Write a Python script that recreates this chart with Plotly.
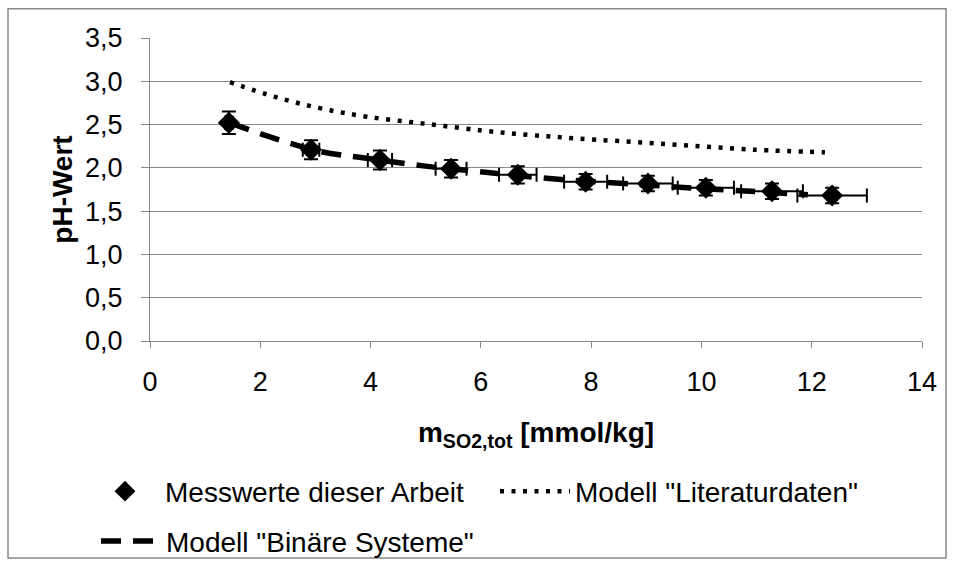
import plotly.graph_objects as go

# Measured values (Messwerte dieser Arbeit)
meas_x = [1.43, 2.92, 4.17, 5.46, 6.67, 7.90, 9.03, 10.08, 11.28, 12.37]
meas_y = [2.52, 2.21, 2.09, 1.99, 1.92, 1.84, 1.82, 1.77, 1.73, 1.68]
meas_xerr = [0.07, 0.15, 0.22, 0.28, 0.34, 0.39, 0.45, 0.51, 0.56, 0.63]
meas_yerr = [0.13, 0.11, 0.11, 0.10, 0.10, 0.09, 0.09, 0.09, 0.09, 0.09]

# Modell "Literaturdaten"
lit_x = [1.45, 2.27, 3.08, 3.94, 4.99, 6.04, 6.89, 7.74, 9.25, 10.94, 12.24]
lit_y = [2.99, 2.82, 2.69, 2.59, 2.51, 2.43, 2.38, 2.34, 2.28, 2.21, 2.18]

# Modell "Binäre Systeme"
bin_x = [1.45, 2.12, 3.08, 3.94, 4.99, 6.08, 7.35, 8.85, 9.74, 10.90, 11.93]
bin_y = [2.52, 2.37, 2.19, 2.11, 2.02, 1.95, 1.87, 1.81, 1.77, 1.73, 1.69]

FONT = "Liberation Sans, Arial, sans-serif"
GRID = "#888888"

fig = go.Figure()
fig.add_trace(go.Scatter(
    x=meas_x, y=meas_y, mode="markers", name="Messwerte dieser Arbeit",
    marker=dict(symbol="diamond", size=17, color="black"),
    error_x=dict(type="data", array=meas_xerr, color="black", thickness=2, width=7),
    error_y=dict(type="data", array=meas_yerr, color="black", thickness=2, width=7),
    legend="legend",
))
fig.add_trace(go.Scatter(
    x=lit_x, y=lit_y, mode="lines", name='Modell "Literaturdaten"',
    line=dict(color="black", width=4.5, dash="4px,7.5px", shape="spline"),
    legend="legend",
))
fig.add_trace(go.Scatter(
    x=bin_x, y=bin_y, mode="lines", name='Modell "Binäre Systeme"',
    line=dict(color="black", width=5.5, dash="20px,12px", shape="spline"),
    legend="legend2",
))

W, H = 956, 579
L, R, T, B = 150, 34, 38, 231
pw, ph = W - L - R, H - T - B

def px(xp):
    return (xp - L) / pw

def py(yp):
    return (H - B - yp) / ph

TICK = 27
TITLE = 28
LEG = 28

fig.update_layout(
    width=W, height=H,
    margin=dict(l=L, r=R, t=T, b=B),
    paper_bgcolor="white", plot_bgcolor="white",
    font=dict(family=FONT, color="black", size=TICK),
    separators=", ",
    showlegend=True,
    legend=dict(orientation="h", x=px(85), xanchor="left", y=py(502), yanchor="middle",
                font=dict(size=LEG), itemwidth=70, bgcolor="rgba(0,0,0,0)",
                entrywidth=325, entrywidthmode="pixels"),
    legend2=dict(orientation="h", x=px(96), xanchor="left", y=py(553), yanchor="middle",
                 font=dict(size=LEG), itemwidth=60, bgcolor="rgba(0,0,0,0)"),
    xaxis=dict(range=[0, 14], dtick=2, tick0=0, showgrid=False, zeroline=False,
               showline=True, linecolor=GRID, linewidth=1.3,
               ticks="outside", ticklen=6, tickcolor=GRID, tickwidth=1.3,
               tickfont=dict(size=TICK), ticklabelstandoff=10,
               title=dict(text="m<sub>SO2,tot</sub> [mmol/kg]",
                          font=dict(size=TITLE, family="Liberation Sans, Arial", weight="bold"),
                          standoff=26)),
    yaxis=dict(range=[0, 3.5], dtick=0.5, tick0=0, tickformat=".1f",
               showgrid=True, gridcolor=GRID, gridwidth=1.3, zeroline=False,
               showline=True, linecolor=GRID, linewidth=1.3,
               ticks="outside", ticklen=8, tickcolor=GRID, tickwidth=1.3,
               tickfont=dict(size=TICK), ticklabelstandoff=13,
               title=dict(text="pH-Wert",
                          font=dict(size=TITLE, family="Liberation Sans, Arial", weight="bold"),
                          standoff=4)),
    shapes=[dict(type="rect", xref="paper", yref="paper",
                 x0=px(8), x1=px(946), y0=py(570), y1=py(8),
                 line=dict(color=GRID, width=1.5), layer="below")],
)

fig.write_html("out.html")
